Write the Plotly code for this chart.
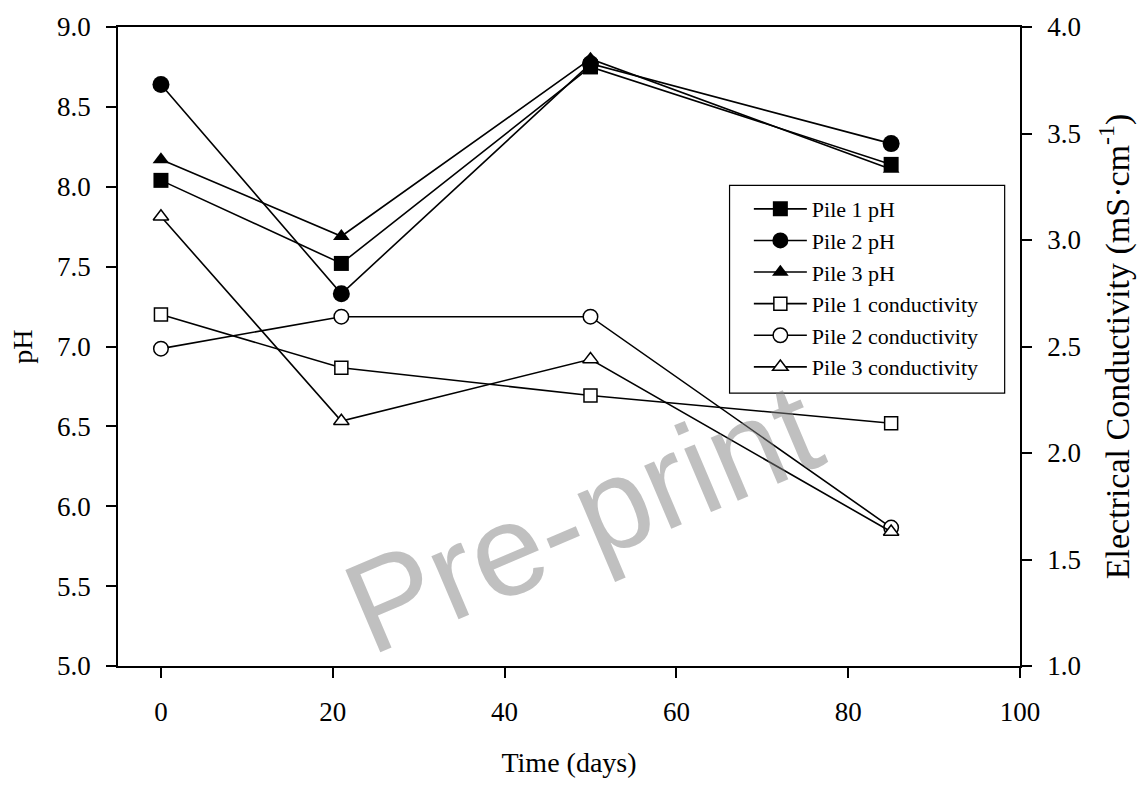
import plotly.graph_objects as go

days = [0, 21, 50, 85]

pile1_ph = [8.04, 7.52, 8.75, 8.14]
pile2_ph = [8.64, 7.33, 8.77, 8.27]
pile3_ph = [8.17, 7.69, 8.80, 8.11]

pile1_cond = [2.65, 2.40, 2.27, 2.14]
pile2_cond = [2.49, 2.64, 2.64, 1.65]
pile3_cond = [3.11, 2.15, 2.44, 1.63]

x_ticks = [0, 20, 40, 60, 80, 100]

SERIF = "Liberation Serif"
LW = 1.6

fig = go.Figure()

def add(name, y, symbol, size, filled, axis):
    if filled:
        marker = dict(symbol=symbol, size=size, color="black", line=dict(color="black", width=0))
    else:
        marker = dict(symbol=symbol, size=size, color="white", line=dict(color="black", width=1.5))
    fig.add_trace(go.Scatter(x=days, y=y, name=name, mode="lines+markers",
                             line=dict(color="black", width=LW), marker=marker,
                             yaxis=axis))

add("Pile 1 pH", pile1_ph, "square", 15, True, "y")
add("Pile 2 pH", pile2_ph, "circle", 17, True, "y")
add("Pile 3 pH", pile3_ph, "triangle-up", 14.5, True, "y")
add("Pile 1 conductivity", pile1_cond, "square", 13, False, "y2")
add("Pile 2 conductivity", pile2_cond, "circle", 14.5, False, "y2")
add("Pile 3 conductivity", pile3_cond, "triangle-up", 13.5, False, "y2")

def axis_common():
    return dict(showline=True, linecolor="black", linewidth=1.5, ticks="outside",
                ticklen=10, tickwidth=1.5, tickcolor="black", showgrid=False,
                zeroline=False, tickfont=dict(family=SERIF, size=27, color="black"))

fig.update_layout(
    width=1144, height=785, autosize=False,
    margin=dict(l=118, r=124, t=21, b=114),
    paper_bgcolor="white", plot_bgcolor="white",
    font=dict(family=SERIF, color="black"),
    xaxis=dict(range=[-5, 100], tickvals=x_ticks, mirror=True,
               title=dict(text="Time (days)", font=dict(family=SERIF, size=28), standoff=26),
               ticklabelstandoff=11, **axis_common()),
    yaxis=dict(range=[5, 9], dtick=0.5, tickformat=".1f",
               title=dict(text="pH", font=dict(family=SERIF, size=28), standoff=16),
               ticklabelstandoff=10, **axis_common()),
    yaxis2=dict(range=[1, 4], dtick=0.5, tickformat=".1f", overlaying="y", side="right",
                title=dict(text="Electrical Conductivity (mS·cm<sup>-1</sup>)",
                           font=dict(family=SERIF, size=34), standoff=25),
                ticklabelstandoff=10, **axis_common()),
    legend=dict(x=0.6994, y=0.748, xanchor="left", yanchor="top",
                borderwidth=0, bgcolor="rgba(0,0,0,0)",
                font=dict(family=SERIF, size=22, color="black"),
                itemwidth=53, tracegroupgap=0),
    showlegend=True,
)

# legend frame
fig.add_shape(type="rect", xref="paper", yref="paper",
              x0=0.678, x1=0.983, y0=0.427, y1=0.752,
              line=dict(color="black", width=1.2), fillcolor="white", layer="below")

# watermark (half-transparent grey so the black lines still show through it)
fig.add_annotation(text="Pre-print", x=0.514, y=0.232, xref="paper", yref="paper",
                   xanchor="center", yanchor="middle",
                   showarrow=False, textangle=-23,
                   font=dict(family="Liberation Sans", size=130, color="rgba(129,129,129,0.5)"))

fig.write_html("out.html")
